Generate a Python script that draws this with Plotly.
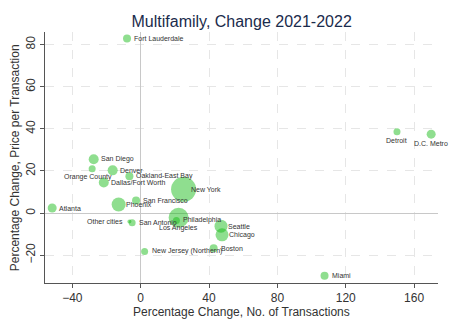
import plotly.graph_objects as go

cities = ["Fort Lauderdale", "Detroit", "D.C. Metro", "Miami", "Atlanta", "San Diego",
          "Orange County", "Denver", "Oakland-East Bay", "Dallas/Fort Worth", "New York",
          "Phoenix", "San Francisco", "Other cities", "San Antonio", "Los Angeles",
          "Philadelphia", "Seattle", "Chicago", "Boston", "New Jersey (Northern)"]
txn_change = [-8, 150, 170, 107.6, -51.8, -27.5, -28.4, -16.4, -6.6, -21.6, 25.1,
              -12.9, -2.7, -6.6, -5.0, 22.2, 20.9, 47.0, 47.6, 42.7, 2.3]
price_change = [82.9, 38.6, 37.5, -29.7, 2.4, 25.6, 21.1, 20.3, 17.5, 14.5, 11.3,
                4.1, 6.0, -4.0, -4.6, -2.2, -3.5, -6.2, -10.3, -16.7, -18.2]
marker_size = [8, 7, 9, 8, 9, 10, 7, 10, 8, 10, 25, 14, 8, 4, 7, 20, 7, 13, 13, 8, 7]

x_title = "Percentage Change, No. of Transactions"
y_title = "Percentage Change, Price per Transaction"

# label placement: (xanchor, xshift, yshift)
label_pos = {
    "Detroit": ("center", 0, -9),
    "D.C. Metro": ("center", 0, -9),
    "Orange County": ("center", -4, -8.5),
    "Other cities": ("right", -4, 0),
    "Los Angeles": ("center", 0, -10),
}

fig = go.Figure()
fig.add_trace(go.Scatter(
    x=txn_change, y=price_change, mode="markers",
    marker=dict(size=marker_size, color="rgba(20,185,20,0.68)", line=dict(width=0)),
    hoverinfo="text", text=cities, showlegend=False,
))

annotations = []
for c, xv, yv in zip(cities, txn_change, price_change):
    xa, xs, ys = label_pos.get(c, ("left", 5, 0))
    annotations.append(dict(
        x=xv, y=yv, xref="x", yref="y", text=c, showarrow=False,
        xanchor=xa, yanchor="middle", xshift=xs, yshift=ys,
        font=dict(size=7, color="#333333", family="Liberation Sans, Arial"),
    ))
annotations.append(dict(
    x=0.5, y=-0.116, xref="paper", yref="paper", text=x_title, showarrow=False,
    xanchor="center", yanchor="middle",
    font=dict(size=12, color="#333333", family="Liberation Sans, Arial"),
))
annotations.append(dict(
    x=-0.077, y=0.5, xref="paper", yref="paper", text=y_title, showarrow=False,
    xanchor="center", yanchor="middle", textangle=-90,
    font=dict(size=12, color="#333333", family="Liberation Sans, Arial"),
))

fig.update_layout(
    width=450, height=327, autosize=False,
    margin=dict(l=45, r=12, t=32, b=44),
    paper_bgcolor="white", plot_bgcolor="white",
    font=dict(family="Liberation Sans, Arial", color="#333333"),
    title=dict(text="Multifamily, Change 2021-2022", x=0.537, xanchor="center",
               y=0.935, yanchor="middle",
               font=dict(size=16, color="#1a2b4c", family="Liberation Sans, Arial")),
    annotations=annotations,
)
fig.update_xaxes(
    range=[-56, 174], tickvals=[-40, 0, 40, 80, 120, 160], automargin=False,
    showline=True, linecolor="#555555", linewidth=1,
    ticks="outside", ticklen=4, tickcolor="#555555",
    tickfont=dict(size=12, color="#333333"),
    showgrid=True, gridcolor="#e6e6e6", griddash="dash", gridwidth=1,
    zeroline=True, zerolinecolor="#c8c8c8", zerolinewidth=1,
)
fig.update_yaxes(
    range=[-33.2, 86], tickvals=[-20, 0, 20, 40, 60, 80], tickangle=-90, automargin=False,
    showline=True, linecolor="#555555", linewidth=1,
    ticks="outside", ticklen=4, tickcolor="#555555",
    tickfont=dict(size=12, color="#333333"),
    showgrid=True, gridcolor="#e6e6e6", griddash="dash", gridwidth=1,
    zeroline=True, zerolinecolor="#c8c8c8", zerolinewidth=1,
)

fig.write_html("out.html")
